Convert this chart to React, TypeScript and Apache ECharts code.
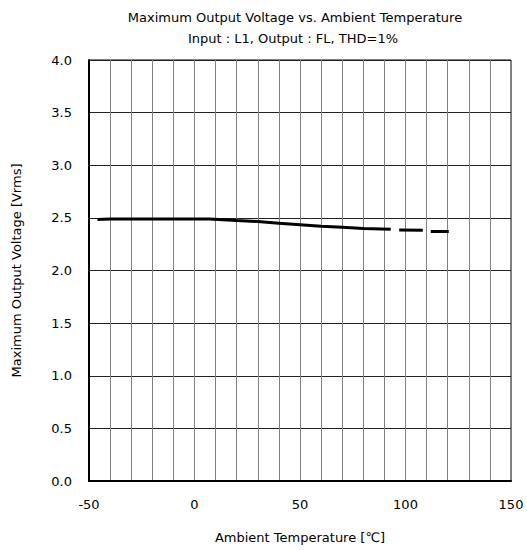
import React, { useEffect, useRef } from "react";
import * as echarts from "echarts";

const titleLines = [
  "Maximum Output Voltage vs. Ambient Temperature",
  "Input : L1, Output : FL, THD=1%",
];
const xAxisName = "Ambient Temperature [\u2103]";
const yAxisName = "Maximum Output Voltage [Vrms]";

// main continuous segment
const tempMain = [-46, -40, -30, -20, -10, 0, 7, 20, 30, 40, 50, 60, 70, 80, 93];
const voltMain = [2.485, 2.49, 2.49, 2.49, 2.49, 2.49, 2.49, 2.475, 2.465, 2.45, 2.435, 2.42, 2.41, 2.4, 2.393];
// short segments
const tempSeg2 = [97, 108.2];
const voltSeg2 = [2.384, 2.383];
const tempSeg3 = [112, 120.5];
const voltSeg3 = [2.37, 2.37];

const FONT = "DejaVu Sans";

function pairs(xs: number[], ys: number[]) {
  return xs.map((x, i) => [x, ys[i]]);
}

export default function App() {
  const ref = useRef<HTMLDivElement>(null);
  useEffect(() => {
    if (!ref.current) return;
    const chart = echarts.init(ref.current, undefined, { renderer: "svg" });
    const lineStyle = { color: "#000", width: 3 };
    const mk = (name: string, data: number[][]) => ({
      name,
      type: "line",
      data,
      symbol: "none",
      lineStyle,
      z: 5,
    });
    chart.setOption({
      animation: false,
      backgroundColor: "#fff",
      graphic: [
        {
          type: "text",
          x: 295,
          y: 17,
          style: {
            text: titleLines[0],
            fontFamily: FONT,
            fontSize: 13,
            fill: "#000",
            textAlign: "center",
            textVerticalAlign: "middle",
          },
        },
        {
          type: "text",
          x: 293,
          y: 38,
          style: {
            text: titleLines[1],
            fontFamily: FONT,
            fontSize: 13,
            fill: "#000",
            textAlign: "center",
            textVerticalAlign: "middle",
          },
        },
      ],
      grid: {
        left: 89,
        top: 60,
        right: 16,
        bottom: 69,
        show: true,
        borderColor: "#000",
        borderWidth: 1,
        backgroundColor: "transparent",
      },
      xAxis: {
        type: "value",
        min: -50,
        max: 150,
        interval: 10,
        name: xAxisName,
        nameLocation: "middle",
        nameGap: 50,
        nameTextStyle: { fontFamily: FONT, fontSize: 13, color: "#000" },
        axisLine: { show: true, onZero: false, lineStyle: { color: "#000", width: 2 } },
        axisTick: { show: false },
        axisLabel: {
          fontFamily: FONT,
          fontSize: 13,
          color: "#000",
          margin: 17,
          formatter: (v: number) => (v % 50 === 0 ? String(v) : ""),
        },
        splitLine: { show: true, lineStyle: { color: "#808080", width: 1 } },
      },
      yAxis: {
        type: "value",
        min: 0,
        max: 4,
        interval: 0.5,
        name: yAxisName,
        nameLocation: "middle",
        nameGap: 66,
        nameTextStyle: { fontFamily: FONT, fontSize: 13, color: "#000" },
        axisLine: { show: true, onZero: false, lineStyle: { color: "#000", width: 2 } },
        axisTick: { show: false },
        axisLabel: {
          fontFamily: FONT,
          fontSize: 13,
          color: "#000",
          margin: 17,
          formatter: (v: number) => v.toFixed(1),
        },
        splitLine: { show: true, lineStyle: { color: "#222", width: 1 } },
      },
      series: [
        mk("main", pairs(tempMain, voltMain)),
        mk("seg2", pairs(tempSeg2, voltSeg2)),
        mk("seg3", pairs(tempSeg3, voltSeg3)),
      ],
    });
    return () => chart.dispose();
  }, []);
  return (
    <div
      ref={ref}
      style={{ position: "absolute", left: 0, top: 0, width: 527, height: 550 }}
    />
  );
}
